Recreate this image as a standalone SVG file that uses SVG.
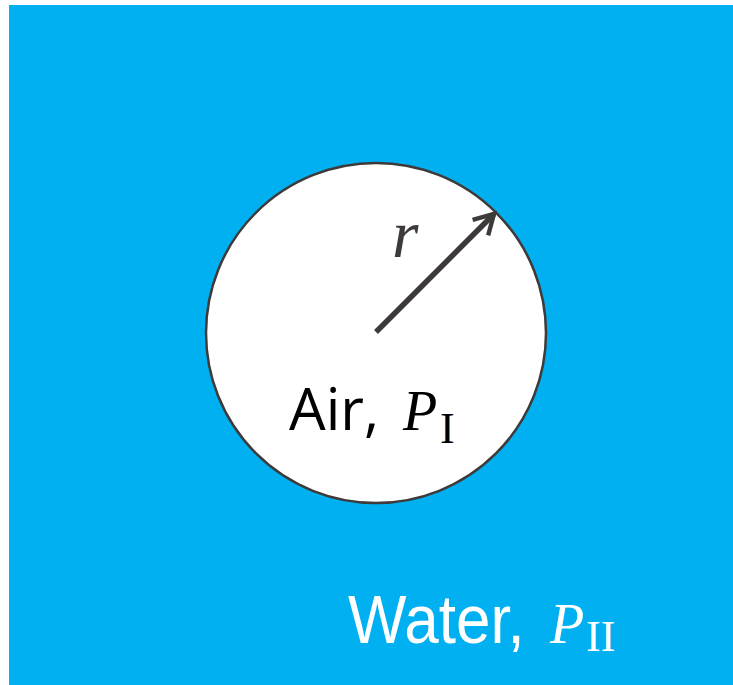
<svg xmlns="http://www.w3.org/2000/svg" width="733" height="685" viewBox="0 0 733 685">
<style>
.sans{font-family:"Liberation Sans",Arial,sans-serif}
.osans{font-family:"Open Sans","Liberation Sans",sans-serif}
.serif{font-family:"Liberation Serif","Times New Roman",serif}
.it{font-style:italic}
</style>
<defs>
<marker id="ah" viewBox="0 0 10 10" refX="8" refY="5" markerWidth="5" markerHeight="5" orient="auto" markerUnits="strokeWidth">
<path d="M1,1 L8,5 L1,9" fill="none" stroke="#3e3a39" stroke-width="1.6" stroke-linecap="butt" stroke-linejoin="miter"/>
</marker>
</defs>
<rect width="733" height="685" fill="#ffffff"/>
<g id="water">
<rect x="9" y="5" width="724" height="680" fill="#00b0f0"/>
<text class="sans" transform="translate(348,643) scale(1,1.12)" font-size="62" fill="#ffffff">Water,</text>
<text class="serif it" x="550" y="643" font-size="56" fill="#ffffff">P</text>
<text class="serif" x="586" y="651" font-size="44" fill="#ffffff">II</text>
</g>
<g id="air">
<circle cx="376" cy="333" r="170" fill="#ffffff" stroke="#3e3a39" stroke-width="2.5"/>
<text class="osans" x="289" y="430" font-size="58" fill="#000000">Air,</text>
<text class="serif it" x="403" y="430" font-size="56" fill="#000000">P</text>
<text class="serif" x="440" y="443" font-size="44" fill="#000000">I</text>
</g>
<g id="connectors">
<line x1="376" y1="332" x2="494" y2="214" stroke="#3e3a39" stroke-width="5.5" marker-end="url(#ah)"/>
<text class="serif it" x="392" y="257" font-size="68" fill="#3e3a39">r</text>
</g>
</svg>
